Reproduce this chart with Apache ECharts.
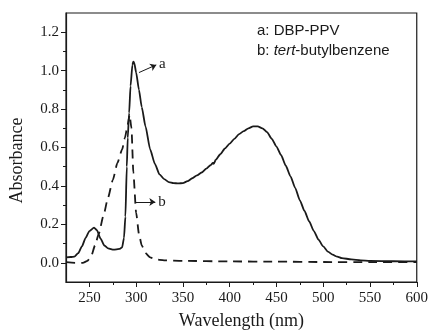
<!DOCTYPE html>
<html>
<head>
<meta charset="utf-8">
<script src="https://cdn.jsdelivr.net/npm/echarts@6/dist/echarts.min.js"></script>
<style>
  html, body {margin: 0; padding: 0; background: #fff;}
  #chart {width: 431px; height: 336px;}
</style>
</head>
<body>
<div id="chart"></div>
<script>
// a: DBP-PPV (solid)
const waveA = [225, 230, 234, 238, 242, 246, 250, 255, 258, 262, 266, 270, 276, 282, 285, 287, 288.5, 290, 291, 292.5, 294, 296, 297, 298, 300, 303, 306, 310, 315, 320, 325, 330, 335, 340, 345, 350, 355, 360, 365, 370, 375, 380, 382, 383, 385, 390, 395, 400, 405, 410, 415, 420, 425, 430, 435, 440, 445, 450, 455, 460, 465, 470, 475, 480, 485, 490, 495, 500, 505, 510, 515, 520, 530, 540, 550, 575, 600];
const absA = [0.028, 0.03, 0.032, 0.05, 0.085, 0.13, 0.165, 0.183, 0.17, 0.125, 0.09, 0.075, 0.068, 0.072, 0.08, 0.13, 0.24, 0.5, 0.65, 0.78, 0.92, 1.03, 1.047, 1.04, 0.99, 0.9, 0.81, 0.71, 0.59, 0.515, 0.46, 0.435, 0.42, 0.415, 0.413, 0.415, 0.425, 0.44, 0.455, 0.47, 0.49, 0.51, 0.52, 0.515, 0.535, 0.565, 0.595, 0.62, 0.645, 0.67, 0.685, 0.7, 0.71, 0.71, 0.7, 0.68, 0.645, 0.605, 0.56, 0.505, 0.45, 0.39, 0.325, 0.27, 0.215, 0.165, 0.12, 0.085, 0.058, 0.042, 0.032, 0.024, 0.018, 0.013, 0.01, 0.008, 0.007];

// b: tert-butylbenzene (dashed)
const waveB = [225, 235, 243, 248, 252, 256, 260, 265, 270, 275, 280, 285, 288, 291, 293, 295, 297, 300, 303, 306, 310, 315, 320, 330, 350, 400, 450, 500, 550, 600];
const absB = [0.003, 0.0, 0.0, 0.01, 0.035, 0.09, 0.15, 0.245, 0.34, 0.43, 0.52, 0.59, 0.65, 0.72, 0.77, 0.70, 0.47, 0.26, 0.15, 0.09, 0.05, 0.028, 0.018, 0.013, 0.01, 0.007, 0.006, 0.004, 0.003, 0.003];

const xMajor = [250, 300, 350, 400, 450, 500, 550, 600];
const xMinor = [275, 325, 375, 425, 475, 525, 575];
const yMajor = [0.0, 0.2, 0.4, 0.6, 0.8, 1.0, 1.2];
const yMinor = [0.1, 0.3, 0.5, 0.7, 0.9, 1.1];

// arrow annotations, in data units: [fromX, fromY, toX, toY, label]
const arrowA = [303, 0.99, 321.5, 1.03, 'a'];
const arrowB = [299.5, 0.316, 320.5, 0.316, 'b'];

const serif = 'Liberation Serif';
const ink = '#1a1a1a';

const chart = echarts.init(document.getElementById('chart'));

const arrowLine = (a) => ({
  silent: true,
  symbol: ['none', 'arrow'],
  symbolSize: 6,
  lineStyle: {color: ink, width: 1, type: 'solid'},
  label: {
    show: true, position: 'end', formatter: a[4], distance: 3,
    fontFamily: serif, fontSize: 15, color: ink,
  },
  data: [[{coord: [a[0], a[1]]}, {coord: [a[2], a[3]]}]],
});

chart.setOption({
  animation: false,
  backgroundColor: '#fff',
  title: {
    left: 252, top: 16,
    text: '{n|a: DBP-PPV}\n{n|b: }{i|tert}{n|-butylbenzene}',
    textStyle: {
      rich: {
        n: {fontFamily: 'Liberation Sans', fontSize: 15, fontWeight: 'normal', color: ink, lineHeight: 20},
        i: {fontFamily: 'Liberation Sans', fontSize: 15, fontWeight: 'normal', color: ink, lineHeight: 20, fontStyle: 'italic'},
      }
    }
  },
  grid: {
    left: 65, top: 13, right: 13, bottom: 54,
    show: true, borderColor: ink, borderWidth: 1.2,
  },
  xAxis: [{
    type: 'value', min: 225, max: 600, position: 'bottom',
    name: 'Wavelength (nm)', nameLocation: 'middle', nameGap: 30,
    nameTextStyle: {fontFamily: serif, fontSize: 18, color: ink},
    axisLine: {show: true, onZero: false, lineStyle: {color: ink, width: 1.2}},
    axisTick: {show: true, customValues: xMajor, length: 5, lineStyle: {color: ink}},
    axisLabel: {customValues: xMajor, margin: 9, fontFamily: serif, fontSize: 15, color: ink},
    splitLine: {show: false},
  }, {
    type: 'value', min: 225, max: 600, position: 'bottom',
    axisLine: {show: false, onZero: false},
    axisTick: {show: true, customValues: xMinor, length: 3, lineStyle: {color: ink}},
    axisLabel: {show: false},
    splitLine: {show: false},
  }],
  yAxis: [{
    type: 'value', min: -0.1, max: 1.3, position: 'left',
    name: 'Absorbance', nameLocation: 'middle', nameGap: 40,
    nameTextStyle: {fontFamily: serif, fontSize: 18, color: ink, padding: [0, 26, 0, 0]},
    axisLine: {show: true, onZero: false, lineStyle: {color: ink, width: 1.2}},
    axisTick: {show: true, customValues: yMajor, length: 5, lineStyle: {color: ink}},
    axisLabel: {
      customValues: yMajor, margin: 7, fontFamily: serif, fontSize: 15, color: ink,
      formatter: (v) => v.toFixed(1),
    },
    splitLine: {show: false},
  }, {
    type: 'value', min: -0.1, max: 1.3, position: 'left',
    axisLine: {show: false, onZero: false},
    axisTick: {show: true, customValues: yMinor, length: 3, lineStyle: {color: ink}},
    axisLabel: {show: false},
    splitLine: {show: false},
  }],
  series: [
    {
      name: 'a: DBP-PPV', type: 'line', showSymbol: false,
      smooth: 0.2, smoothMonotone: 'x',
      data: waveA.map((w, i) => [w, absA[i]]),
      lineStyle: {color: ink, width: 1.8},
      markLine: arrowLine(arrowA),
    },
    {
      name: 'b: tert-butylbenzene', type: 'line', showSymbol: false,
      smooth: 0.2, smoothMonotone: 'x',
      data: waveB.map((w, i) => [w, absB[i]]),
      lineStyle: {color: ink, width: 1.8, type: [9, 6]},
      markLine: arrowLine(arrowB),
    },
  ],
});
</script>
</body>
</html>
